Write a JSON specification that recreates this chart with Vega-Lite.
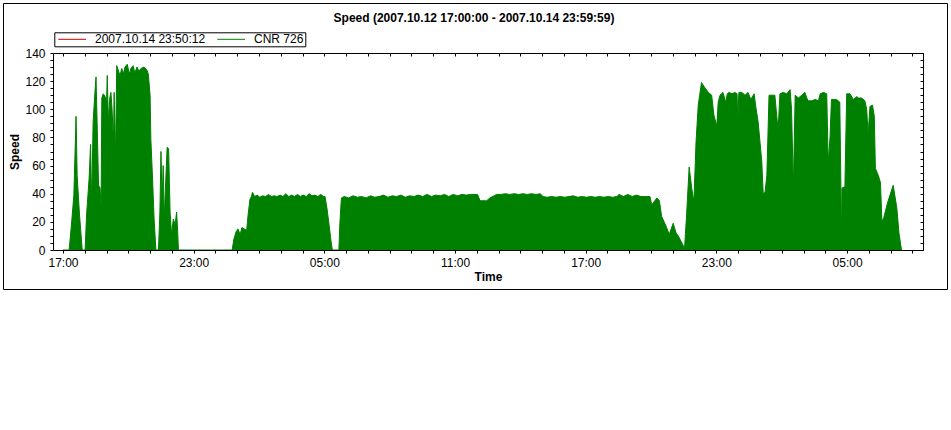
{
  "$schema": "https://vega.github.io/schema/vega-lite/v6.json",
  "width": 944,
  "height": 286,
  "autosize": {"type": "none"},
  "padding": {"left": 3, "top": 3, "right": 4, "bottom": 141},
  "background": "white",
  "title": {"text": "Speed (2007.10.12 17:00:00 - 2007.10.14 23:59:59)", "font": "Liberation Sans", "fontSize": 12, "fontWeight": "bold", "color": "black", "anchor": "middle", "offset": -21.5, "dx": -1},
  "config": {"view": {"stroke": "black", "strokeWidth": 1}, "font": "Liberation Sans"},
  "data": {"format": {"parse": {"t": "utc:'%Y-%m-%dT%H:%M'"}}, "values": [
    {"t":"2007-10-12T17:00","v":0},{"t":"2007-10-12T17:17","v":0},{"t":"2007-10-12T17:24","v":20},{"t":"2007-10-12T17:30","v":39},{"t":"2007-10-12T17:36","v":95},{"t":"2007-10-12T17:39","v":53},{"t":"2007-10-12T17:45","v":27},{"t":"2007-10-12T17:53","v":0},
    {"t":"2007-10-12T18:01","v":0},{"t":"2007-10-12T18:05","v":25},{"t":"2007-10-12T18:12","v":51},{"t":"2007-10-12T18:16","v":75},{"t":"2007-10-12T18:19","v":32},{"t":"2007-10-12T18:23","v":91},{"t":"2007-10-12T18:28","v":112},{"t":"2007-10-12T18:31","v":123},{"t":"2007-10-12T18:34","v":91},{"t":"2007-10-12T18:38","v":46},{"t":"2007-10-12T18:42","v":44},{"t":"2007-10-12T18:45","v":32},{"t":"2007-10-12T18:47","v":108},{"t":"2007-10-12T18:51","v":111},{"t":"2007-10-12T18:56","v":109},
    {"t":"2007-10-12T19:00","v":105},{"t":"2007-10-12T19:02","v":124},{"t":"2007-10-12T19:05","v":91},{"t":"2007-10-12T19:09","v":108},{"t":"2007-10-12T19:12","v":112},{"t":"2007-10-12T19:15","v":101},{"t":"2007-10-12T19:19","v":77},{"t":"2007-10-12T19:21","v":112},{"t":"2007-10-12T19:25","v":67},{"t":"2007-10-12T19:28","v":131},{"t":"2007-10-12T19:32","v":128},{"t":"2007-10-12T19:37","v":124},{"t":"2007-10-12T19:42","v":129},{"t":"2007-10-12T19:46","v":125},{"t":"2007-10-12T19:51","v":130},{"t":"2007-10-12T19:57","v":132},
    {"t":"2007-10-12T20:03","v":125},{"t":"2007-10-12T20:07","v":129},{"t":"2007-10-12T20:13","v":131},{"t":"2007-10-12T20:18","v":126},{"t":"2007-10-12T20:24","v":130},{"t":"2007-10-12T20:29","v":127},{"t":"2007-10-12T20:35","v":129},{"t":"2007-10-12T20:43","v":130},{"t":"2007-10-12T20:51","v":128},{"t":"2007-10-12T20:55","v":125},
    {"t":"2007-10-12T21:00","v":110},{"t":"2007-10-12T21:02","v":79},{"t":"2007-10-12T21:07","v":49},{"t":"2007-10-12T21:11","v":22},{"t":"2007-10-12T21:16","v":0},{"t":"2007-10-12T21:23","v":0},{"t":"2007-10-12T21:27","v":27},{"t":"2007-10-12T21:30","v":70},{"t":"2007-10-12T21:33","v":34},{"t":"2007-10-12T21:36","v":60},{"t":"2007-10-12T21:39","v":22},{"t":"2007-10-12T21:43","v":49},{"t":"2007-10-12T21:47","v":73},{"t":"2007-10-12T21:51","v":72},{"t":"2007-10-12T21:55","v":27},{"t":"2007-10-12T21:59","v":11},
    {"t":"2007-10-12T22:04","v":22},{"t":"2007-10-12T22:09","v":18},{"t":"2007-10-12T22:13","v":27},{"t":"2007-10-12T22:16","v":13},{"t":"2007-10-12T22:18","v":0},
    {"t":"2007-10-13T00:46","v":0},{"t":"2007-10-13T00:51","v":8},{"t":"2007-10-13T00:57","v":13},{"t":"2007-10-13T01:02","v":15},{"t":"2007-10-13T01:08","v":11},{"t":"2007-10-13T01:13","v":16},{"t":"2007-10-13T01:19","v":15},{"t":"2007-10-13T01:26","v":14},{"t":"2007-10-13T01:30","v":25},{"t":"2007-10-13T01:35","v":36},{"t":"2007-10-13T01:39","v":38},{"t":"2007-10-13T01:42","v":41},{"t":"2007-10-13T01:48","v":38},{"t":"2007-10-13T01:55","v":39},
    {"t":"2007-10-13T02:02","v":37.5},{"t":"2007-10-13T02:10","v":38.5},{"t":"2007-10-13T02:18","v":38},{"t":"2007-10-13T02:26","v":39.5},{"t":"2007-10-13T02:34","v":38},{"t":"2007-10-13T02:42","v":38.5},{"t":"2007-10-13T02:50","v":38},{"t":"2007-10-13T02:58","v":39},{"t":"2007-10-13T03:06","v":38},{"t":"2007-10-13T03:14","v":40},{"t":"2007-10-13T03:22","v":38},{"t":"2007-10-13T03:30","v":39},{"t":"2007-10-13T03:38","v":38},{"t":"2007-10-13T03:46","v":39.5},{"t":"2007-10-13T03:54","v":38},
    {"t":"2007-10-13T04:02","v":39},{"t":"2007-10-13T04:10","v":38},{"t":"2007-10-13T04:18","v":40},{"t":"2007-10-13T04:26","v":38.5},{"t":"2007-10-13T04:34","v":39},{"t":"2007-10-13T04:42","v":38},{"t":"2007-10-13T04:50","v":39.5},{"t":"2007-10-13T04:58","v":38},{"t":"2007-10-13T05:02","v":38},{"t":"2007-10-13T05:07","v":30},{"t":"2007-10-13T05:13","v":18},{"t":"2007-10-13T05:18","v":7},{"t":"2007-10-13T05:22","v":0},
    {"t":"2007-10-13T05:40","v":0},{"t":"2007-10-13T05:43","v":20},{"t":"2007-10-13T05:47","v":37},{"t":"2007-10-13T05:55","v":38},{"t":"2007-10-13T06:07","v":37},{"t":"2007-10-13T06:19","v":38.5},{"t":"2007-10-13T06:31","v":37.5},{"t":"2007-10-13T06:43","v":38},{"t":"2007-10-13T06:55","v":37},{"t":"2007-10-13T07:07","v":38.5},{"t":"2007-10-13T07:19","v":37.5},{"t":"2007-10-13T07:31","v":38},{"t":"2007-10-13T07:43","v":39},{"t":"2007-10-13T07:55","v":37.5},
    {"t":"2007-10-13T08:07","v":38.5},{"t":"2007-10-13T08:19","v":38},{"t":"2007-10-13T08:31","v":39},{"t":"2007-10-13T08:43","v":37.5},{"t":"2007-10-13T08:55","v":38.5},{"t":"2007-10-13T09:07","v":38},{"t":"2007-10-13T09:19","v":39},{"t":"2007-10-13T09:31","v":38},{"t":"2007-10-13T09:43","v":39.5},{"t":"2007-10-13T09:55","v":38},{"t":"2007-10-13T10:07","v":39},{"t":"2007-10-13T10:19","v":38.5},{"t":"2007-10-13T10:31","v":39.5},{"t":"2007-10-13T10:43","v":38},{"t":"2007-10-13T10:55","v":39.5},
    {"t":"2007-10-13T11:07","v":38.5},{"t":"2007-10-13T11:19","v":39.5},{"t":"2007-10-13T11:31","v":39},{"t":"2007-10-13T11:43","v":39.5},{"t":"2007-10-13T11:55","v":39.5},{"t":"2007-10-13T12:02","v":39.5},{"t":"2007-10-13T12:09","v":35},{"t":"2007-10-13T12:27","v":35},{"t":"2007-10-13T12:36","v":37},{"t":"2007-10-13T12:55","v":39.5},{"t":"2007-10-13T13:07","v":39.5},{"t":"2007-10-13T13:19","v":40},{"t":"2007-10-13T13:31","v":39.5},{"t":"2007-10-13T13:43","v":40},{"t":"2007-10-13T13:55","v":39.5},
    {"t":"2007-10-13T14:07","v":40},{"t":"2007-10-13T14:19","v":39.5},{"t":"2007-10-13T14:31","v":40},{"t":"2007-10-13T14:43","v":39.5},{"t":"2007-10-13T14:55","v":40},{"t":"2007-10-13T15:02","v":38},{"t":"2007-10-13T15:14","v":37.5},{"t":"2007-10-13T15:26","v":38},{"t":"2007-10-13T15:38","v":37.5},{"t":"2007-10-13T15:50","v":38},{"t":"2007-10-13T16:02","v":37.5},{"t":"2007-10-13T16:14","v":38},{"t":"2007-10-13T16:26","v":38.5},{"t":"2007-10-13T16:38","v":37.5},{"t":"2007-10-13T16:50","v":38},
    {"t":"2007-10-13T17:02","v":37.5},{"t":"2007-10-13T17:14","v":38},{"t":"2007-10-13T17:26","v":37.5},{"t":"2007-10-13T17:38","v":38},{"t":"2007-10-13T17:50","v":37.5},{"t":"2007-10-13T18:02","v":38},{"t":"2007-10-13T18:14","v":37.5},{"t":"2007-10-13T18:26","v":38},{"t":"2007-10-13T18:32","v":39.5},{"t":"2007-10-13T18:44","v":38},{"t":"2007-10-13T18:56","v":39.5},{"t":"2007-10-13T19:08","v":38},{"t":"2007-10-13T19:20","v":39},{"t":"2007-10-13T19:32","v":38},{"t":"2007-10-13T19:44","v":38},{"t":"2007-10-13T19:57","v":38},
    {"t":"2007-10-13T20:02","v":32},{"t":"2007-10-13T20:16","v":37},{"t":"2007-10-13T20:23","v":35},{"t":"2007-10-13T20:29","v":24},{"t":"2007-10-13T20:43","v":16},{"t":"2007-10-13T20:50","v":11},{"t":"2007-10-13T21:01","v":19},{"t":"2007-10-13T21:09","v":12},{"t":"2007-10-13T21:15","v":10},{"t":"2007-10-13T21:31","v":2},{"t":"2007-10-13T21:32","v":0},{"t":"2007-10-13T21:38","v":25},{"t":"2007-10-13T21:45","v":59},{"t":"2007-10-13T21:52","v":44},{"t":"2007-10-13T21:58","v":34},
    {"t":"2007-10-13T22:04","v":77},{"t":"2007-10-13T22:10","v":103},{"t":"2007-10-13T22:19","v":119},{"t":"2007-10-13T22:29","v":115},{"t":"2007-10-13T22:38","v":112},{"t":"2007-10-13T22:47","v":110},{"t":"2007-10-13T22:53","v":96},{"t":"2007-10-13T23:01","v":88},{"t":"2007-10-13T23:05","v":105},{"t":"2007-10-13T23:10","v":110},{"t":"2007-10-13T23:18","v":112},{"t":"2007-10-13T23:26","v":105},{"t":"2007-10-13T23:30","v":111},{"t":"2007-10-13T23:35","v":112},{"t":"2007-10-13T23:43","v":111},{"t":"2007-10-13T23:51","v":112},{"t":"2007-10-13T23:57","v":111},{"t":"2007-10-13T23:59","v":92},
    {"t":"2007-10-14T00:02","v":112},{"t":"2007-10-14T00:10","v":112},{"t":"2007-10-14T00:19","v":110},{"t":"2007-10-14T00:27","v":112},{"t":"2007-10-14T00:35","v":107},{"t":"2007-10-14T00:44","v":111},{"t":"2007-10-14T00:49","v":101},{"t":"2007-10-14T00:55","v":91},{"t":"2007-10-14T01:05","v":63},{"t":"2007-10-14T01:09","v":40},{"t":"2007-10-14T01:14","v":41},{"t":"2007-10-14T01:19","v":53},{"t":"2007-10-14T01:25","v":110},{"t":"2007-10-14T01:41","v":110},{"t":"2007-10-14T01:50","v":85},{"t":"2007-10-14T01:55","v":111},
    {"t":"2007-10-14T02:04","v":112},{"t":"2007-10-14T02:14","v":111},{"t":"2007-10-14T02:23","v":114},{"t":"2007-10-14T02:27","v":100},{"t":"2007-10-14T02:32","v":45},{"t":"2007-10-14T02:37","v":110},{"t":"2007-10-14T02:46","v":108},{"t":"2007-10-14T02:55","v":110},{"t":"2007-10-14T03:04","v":112},{"t":"2007-10-14T03:09","v":108},{"t":"2007-10-14T03:13","v":106},{"t":"2007-10-14T03:23","v":106},{"t":"2007-10-14T03:32","v":107},{"t":"2007-10-14T03:41","v":106},{"t":"2007-10-14T03:46","v":111},{"t":"2007-10-14T03:55","v":112},
    {"t":"2007-10-14T04:04","v":111},{"t":"2007-10-14T04:08","v":62},{"t":"2007-10-14T04:13","v":80},{"t":"2007-10-14T04:17","v":107},{"t":"2007-10-14T04:31","v":107},{"t":"2007-10-14T04:40","v":105},{"t":"2007-10-14T04:43","v":45},{"t":"2007-10-14T04:44","v":3},{"t":"2007-10-14T04:46","v":44},{"t":"2007-10-14T04:54","v":45},{"t":"2007-10-14T04:59","v":111},
    {"t":"2007-10-14T05:08","v":111},{"t":"2007-10-14T05:17","v":107},{"t":"2007-10-14T05:27","v":109},{"t":"2007-10-14T05:31","v":108},{"t":"2007-10-14T05:40","v":108},{"t":"2007-10-14T05:49","v":106},{"t":"2007-10-14T05:54","v":100},{"t":"2007-10-14T05:58","v":82},{"t":"2007-10-14T06:03","v":102},{"t":"2007-10-14T06:10","v":103},{"t":"2007-10-14T06:15","v":95},{"t":"2007-10-14T06:18","v":58},{"t":"2007-10-14T06:26","v":53},{"t":"2007-10-14T06:32","v":48},{"t":"2007-10-14T06:36","v":20},{"t":"2007-10-14T06:41","v":23},{"t":"2007-10-14T06:52","v":34},
    {"t":"2007-10-14T07:07","v":46},{"t":"2007-10-14T07:17","v":30},{"t":"2007-10-14T07:23","v":12},{"t":"2007-10-14T07:30","v":0}
  ]},
  "layer": [
    {
      "mark": {"type": "area", "color": "#008000"},
      "encoding": {
        "x": {"field": "t", "type": "temporal",
          "scale": {"type": "utc", "domain": [1192206750000, 1192350550000], "range": [50, 920], "nice": false},
          "axis": {"orient": "bottom", "offset": -39, "zindex": 1, "grid": false,
            "title": "Time", "titleFont": "Liberation Sans", "titleFontSize": 12, "titleFontWeight": "bold", "titleColor": "black", "titlePadding": 3,
            "values": [1192208400000,1192212000000,1192215600000,1192219200000,1192222800000,1192226400000,1192230000000,1192233600000,1192237200000,1192240800000,1192244400000,1192248000000,1192251600000,1192255200000,1192258800000,1192262400000,1192266000000,1192269600000,1192273200000,1192276800000,1192280400000,1192284000000,1192287600000,1192291200000,1192294800000,1192298400000,1192302000000,1192305600000,1192309200000,1192312800000,1192316400000,1192320000000,1192323600000,1192327200000,1192330800000,1192334400000,1192338000000,1192341600000,1192345200000,1192348800000],
            "labelExpr": "utchours(datum.value) % 6 == 5 ? utcFormat(datum.value, '%H:%M') : ''",
            "labelFont": "Liberation Sans", "labelFontSize": 12, "labelColor": "black", "labelPadding": 4, "labelOverlap": false, "labelFlush": false,
            "tickSize": 3, "tickColor": "black", "domainColor": "black"}},
        "y": {"field": "v", "type": "quantitative", "stack": null,
          "scale": {"domain": [0, 140], "range": [247, 50], "nice": false, "zero": true},
          "axis": {"orient": "left", "offset": -50, "zindex": 1, "grid": false,
            "title": "Speed", "titleFont": "Liberation Sans", "titleFontSize": 12, "titleFontWeight": "bold", "titleColor": "black", "titlePadding": 3,
            "values": [0,5,10,15,20,25,30,35,40,45,50,55,60,65,70,75,80,85,90,95,100,105,110,115,120,125,130,135,140],
            "labelExpr": "datum.value % 20 == 0 ? datum.label : ''",
            "labelFont": "Liberation Sans", "labelFontSize": 12, "labelColor": "black", "labelPadding": 5, "labelOverlap": false, "labelFlush": false,
            "tickSize": 3, "tickColor": "black", "domainColor": "black"}}
      }
    },
    {
      "mark": {"type": "line", "strokeWidth": 1},
      "encoding": {
        "x": {"field": "t", "type": "temporal",
          "scale": {"type": "utc", "domain": [1192206750000, 1192350550000], "range": [50, 920], "nice": false},
          "axis": {"orient": "top", "offset": -50, "zindex": 1, "grid": false, "labels": false, "title": null,
            "values": [1192208400000,1192212000000,1192215600000,1192219200000,1192222800000,1192226400000,1192230000000,1192233600000,1192237200000,1192240800000,1192244400000,1192248000000,1192251600000,1192255200000,1192258800000,1192262400000,1192266000000,1192269600000,1192273200000,1192276800000,1192280400000,1192284000000,1192287600000,1192291200000,1192294800000,1192298400000,1192302000000,1192305600000,1192309200000,1192312800000,1192316400000,1192320000000,1192323600000,1192327200000,1192330800000,1192334400000,1192338000000,1192341600000,1192345200000,1192348800000],
            "tickSize": -3, "tickColor": "black", "domainColor": "black"}},
        "y": {"field": "v", "type": "quantitative",
          "scale": {"domain": [0, 140], "range": [247, 50], "nice": false, "zero": true},
          "axis": {"orient": "right", "offset": -24, "zindex": 1, "grid": false, "labels": false, "title": null,
            "values": [0,5,10,15,20,25,30,35,40,45,50,55,60,65,70,75,80,85,90,95,100,105,110,115,120,125,130,135,140],
            "tickSize": -3, "tickColor": "black", "domainColor": "black"}},
        "color": {"datum": "CNR 726", "type": "nominal",
          "scale": {"domain": ["2007.10.14 23:50:12", "CNR 726"], "range": ["#cc0000", "#008000"]},
          "legend": {"orient": "none", "legendX": 51.3, "legendY": 29.3, "direction": "horizontal", "title": null,
            "strokeColor": "black", "fillColor": "white", "padding": 1, "gridAlign": "all",
            "symbolType": "M-1.5,0H12.35", "symbolSize": 16, "symbolStrokeWidth": 1,
            "labelFont": "Liberation Sans", "labelFontSize": 12, "labelColor": "black", "labelOffset": 27.7, "columnPadding": 9, "labelLimit": 400}}
      }
    }
  ],
  "resolve": {"axis": {"x": "independent", "y": "independent"}}
}
